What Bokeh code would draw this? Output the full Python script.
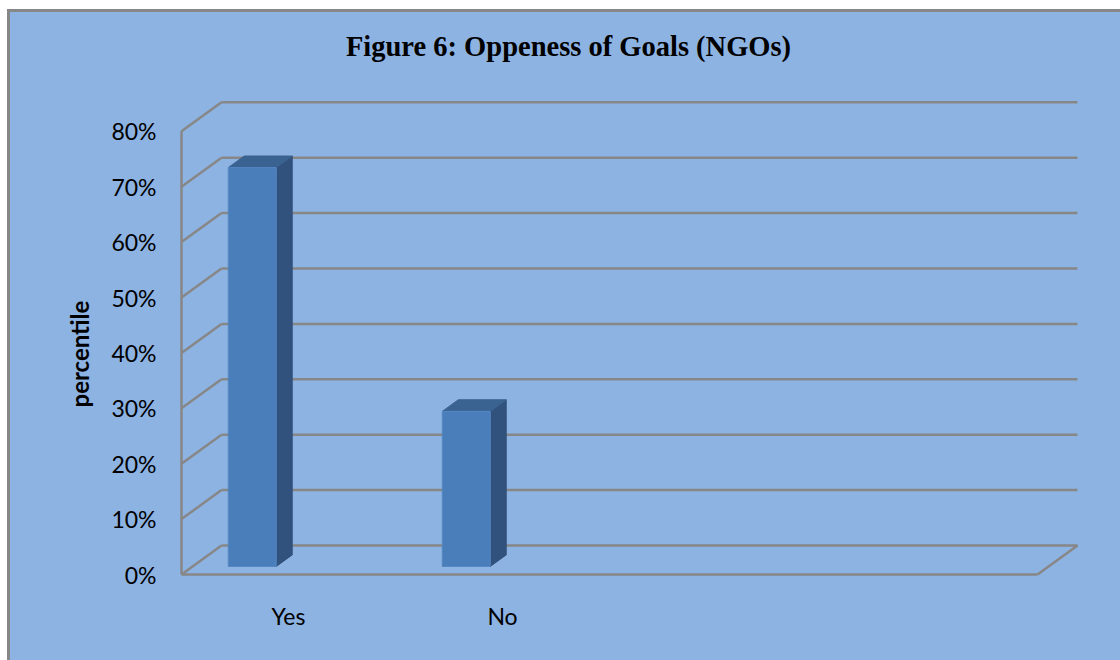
from bokeh.plotting import figure
from bokeh.models import FixedTicker, Range1d, Title
from bokeh.core.properties import value
from bokeh.embed import file_html
from bokeh.resources import INLINE

# ---------------- data ----------------
title_text = "Figure 6: Oppeness of Goals (NGOs)"
y_axis_title = "percentile"
categories = ["Yes", "No", "", ""]
values = [72, 28, None, None]
y_ticks = [0, 10, 20, 30, 40, 50, 60, 70, 80]
y_tick_labels = ["0%", "10%", "20%", "30%", "40%", "50%", "60%", "70%", "80%"]

# ---------------- style ----------------
BG = "#8DB3E2"
GRID = "#878787"
FRONT = "#4A7EBB"
FRONT_EDGE = "#5587C4"
TOP = "#3A6391"
SIDE = "#31527C"
PX_X = 214.0   # pixels per category
PX_Y = 5.54    # pixels per percent
DX = 40 / PX_X  # depth offset (category units)
DY = 29 / PX_Y  # depth offset (percent units)
D_FRONT, D_BACK = 0.276, 0.676
BAR_OFF, BAR_W = 0.167, 0.224

W, H = 1120, 660
ML, MR, MT, MB = 175, 41, 0, 78
TITLE_BASELINE = 46   # px below the top of the canvas
TITLE_CENTER = 568    # px from the left of the canvas

n = len(categories)
ymax = y_ticks[-1]

x_start = -6 / PX_X
x_end = x_start + (W - ML - MR) / PX_X
y_start = -8 / PX_Y
y_end = y_start + (H - MT - MB) / PX_Y

chart_box = ("linear-gradient(#878787,#878787) 7px 9px / 3px 100% no-repeat, "
             "linear-gradient(#878787,#878787) 7px 9px / 100% 3px no-repeat, "
             f"linear-gradient({BG},{BG}) 7px 9px / 100% 100% no-repeat, #ffffff")

p = figure(width=W, height=H, output_backend="svg", toolbar_location=None, title=None,
           x_range=Range1d(x_start, x_end), y_range=Range1d(y_start, y_end),
           min_border_left=ML, min_border_right=MR, min_border_top=MT, min_border_bottom=MB,
           background_fill_color=None, border_fill_color=None,
           styles={"background": chart_box})
p.outline_line_color = None
p.xgrid.visible = False
p.ygrid.visible = False

# ---------------- walls / grid ----------------
gx0, gy0, gx1, gy1 = [], [], [], []
for t in y_ticks:
    gx0.append(DX); gy0.append(t + DY); gx1.append(n + DX); gy1.append(t + DY)
    gx0.append(0); gy0.append(t); gx1.append(DX); gy1.append(t + DY)
gx0.append(0); gy0.append(0); gx1.append(0); gy1.append(ymax)
gx0.append(0); gy0.append(0); gx1.append(n); gy1.append(0)
gx0.append(n); gy0.append(0); gx1.append(n + DX); gy1.append(DY)
p.segment(gx0, gy0, gx1, gy1, line_color=GRID, line_width=2.5)

# ---------------- bars ----------------
fx, fy = D_FRONT * DX, D_FRONT * DY
bx, by = D_BACK * DX, D_BACK * DY
ql, qr, qb, qt = [], [], [], []
top_xs, top_ys, side_xs, side_ys = [], [], [], []
for i, v in enumerate(values):
    if v is None:
        continue
    x0 = i + BAR_OFF
    x1 = x0 + BAR_W
    ql.append(x0 + fx); qr.append(x1 + fx); qb.append(fy); qt.append(v + fy)
    top_xs.append([x0 + fx, x1 + fx, x1 + bx, x0 + bx])
    top_ys.append([v + fy, v + fy, v + by, v + by])
    side_xs.append([x1 + fx, x1 + bx, x1 + bx, x1 + fx])
    side_ys.append([fy, by, v + by, v + fy])
p.patches(side_xs, side_ys, fill_color=SIDE, line_color=SIDE, line_width=1)
p.patches(top_xs, top_ys, fill_color=TOP, line_color=TOP, line_width=1)
p.quad(left=ql, right=qr, bottom=qb, top=qt, fill_color=FRONT, line_color=FRONT_EDGE, line_width=1)

# ---------------- chart title ----------------
title_x = x_start + (TITLE_CENTER - ML) / PX_X
title_y = y_end - TITLE_BASELINE / PX_Y
p.text(x=[title_x], y=[title_y], text=[title_text],
       text_font=value("Liberation Serif"), text_font_style="bold", text_font_size="28.5px",
       text_align="center", text_baseline="alphabetic", text_color="black")

# ---------------- axes ----------------
ya = p.yaxis[0]
ya.ticker = FixedTicker(ticks=y_ticks)
ya.major_label_overrides = dict(zip(y_ticks, y_tick_labels))
ya.axis_line_color = None
ya.major_tick_line_color = None
ya.minor_tick_line_color = None
ya.major_label_standoff = 13
ya.major_label_text_font = "Lato"
ya.major_label_text_font_size = "23px"
ya.major_label_text_color = "black"

# axis title, placed alongside the 0..80% wall
p.add_layout(Title(text=y_axis_title, align="left", offset=175, standoff=30,
                   text_font="Lato", text_font_style="bold", text_font_size="24px",
                   text_color="black"), "left")

xa = p.xaxis[0]
x_ticks = [i + 0.5 for i in range(n)]
xa.ticker = FixedTicker(ticks=x_ticks)
xa.major_label_overrides = dict(zip(x_ticks, categories))
xa.axis_line_color = None
xa.major_tick_line_color = None
xa.minor_tick_line_color = None
xa.major_label_standoff = 13
xa.major_label_text_font = "Lato"
xa.major_label_text_font_size = "23px"
xa.major_label_text_color = "black"

open("out.html", "w").write(file_html(p, INLINE))
